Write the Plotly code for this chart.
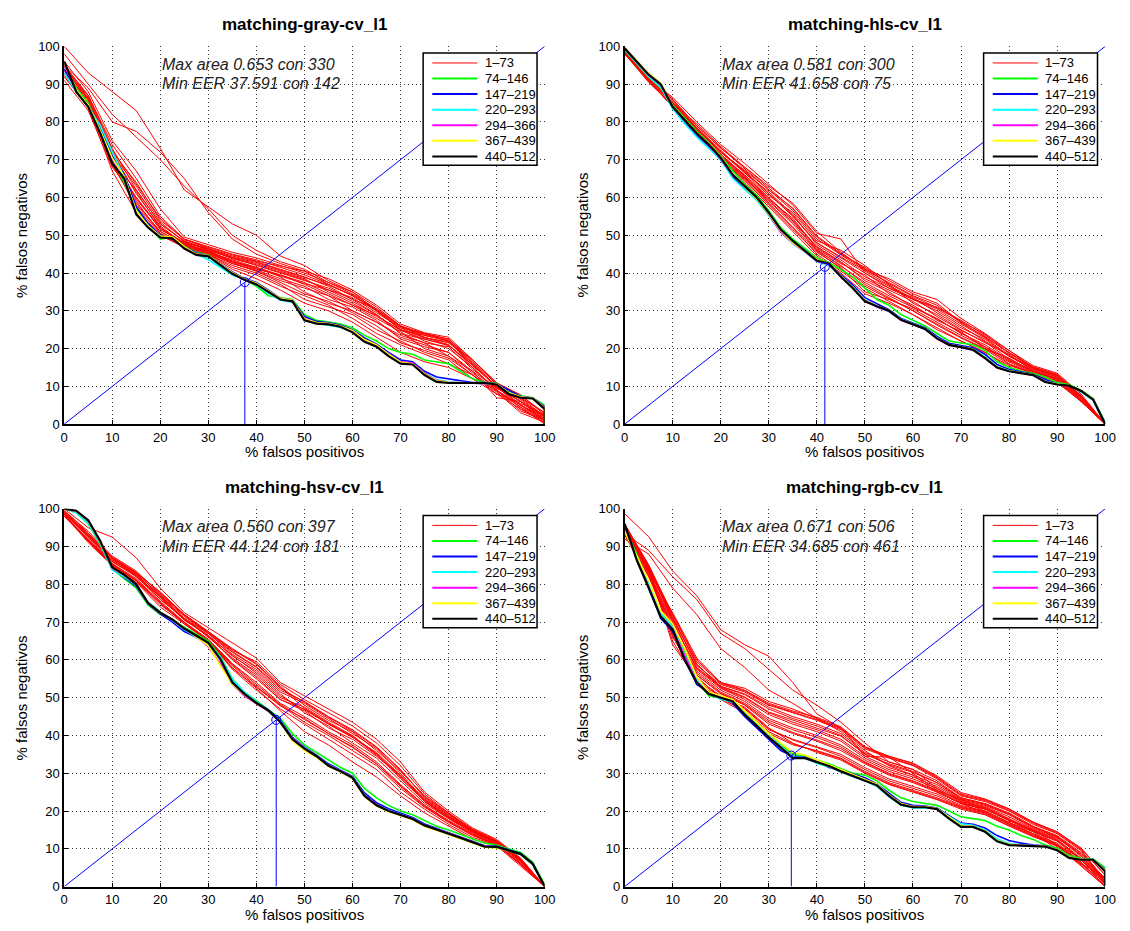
import plotly.graph_objects as go

# ---------------- data ----------------
X_FINE = [0, 2.5, 5, 7.5, 10, 12.5, 15, 17.5, 20, 22.5, 25, 27.5, 30, 32.5, 35, 37.5, 40,
          42.5, 45, 47.5, 50, 52.5, 55, 57.5, 60, 62.5, 65, 67.5, 70, 72.5, 75, 77.5, 80,
          82.5, 85, 87.5, 90, 92.5, 95, 97.5, 100]
X_FINE_DROP = X_FINE + [100]
X_RED = [0, 5, 10, 15, 20, 25, 30, 35, 40, 45, 50, 55, 60, 65, 70, 75, 80, 85, 90, 95, 100]

GROUP_LABELS = ["1–73", "74–146", "147–219", "220–293", "294–366", "367–439", "440–512"]
GROUP_COLORS = ["#ff0000", "#00ff00", "#0000ff", "#00ffff", "#ff00ff", "#ffff00", "#000000"]

TITLES = ["matching-gray-cv_l1", "matching-hls-cv_l1", "matching-hsv-cv_l1", "matching-rgb-cv_l1"]
MAX_AREA = ["0.653", "0.581", "0.560", "0.671"]
MAX_AREA_CON = [330, 300, 397, 506]
MIN_EER = [37.591, 41.658, 44.124, 34.685]
MIN_EER_CON = [142, 75, 181, 461]

# ---- gray ----
GRAY_RED = [
    [100, 93, 88, 83, 73, 62, 57.5, 53, 50, 44.5, 42, 38, 35, 30, 25.5, 24, 22.5, 17, 10.5, 7, 3],
    [98, 90, 82, 76, 70, 63, 57, 50, 46, 43, 41, 37.5, 34.5, 30.5, 26, 23.5, 22, 16, 10, 6, 2],
    [95, 89, 80, 77.5, 72, 65, 56, 49, 45, 42.5, 40.5, 37, 34, 30, 25, 23, 21, 15.5, 10, 5, 1.5],
    [94, 86, 72, 64, 54, 49, 47, 45, 43.5, 41.5, 39.5, 37, 34, 30, 25, 23.5, 22, 16, 10, 6, 2],
    [93, 85, 70, 60, 52, 48, 46.5, 44, 42, 40, 38, 36, 33, 29, 24, 22.5, 21, 15, 9, 5, 1],
    [95, 87, 73, 62, 53, 48.5, 46, 43, 41, 39.5, 37, 34, 30, 27, 23, 21, 19, 14, 9.5, 7, 3],
    [92, 84, 69, 58, 51, 47.5, 45.5, 42.5, 40.5, 38, 36, 34, 31.5, 28, 24.5, 20, 18, 13, 8, 4, 1],
    [94, 85, 71, 59, 50.5, 47, 45, 42, 40, 37, 33, 31, 29, 25, 22, 19, 17, 12, 10, 5, 2],
    [93, 86, 70, 57, 50, 47, 45, 41.5, 39.5, 36.5, 34, 31.5, 28, 24, 21, 18.5, 16, 13, 8.5, 3, 0.5],
    [91, 83, 68, 60, 51.5, 48, 45.5, 43.5, 41.5, 39, 35, 32, 30, 27, 23.5, 21.5, 18, 14, 7, 6, 1.5],
    [95, 86, 72, 61, 52.5, 47.5, 46, 44, 42.5, 40.5, 38.5, 35, 32, 28.5, 25, 22, 20, 15, 9, 4.5, 0],
    [92, 84, 67, 56, 50, 46.8, 44.8, 41, 38.5, 35.5, 32, 30, 27, 23, 19, 16.5, 15, 12, 8, 5.5, 2.5],
    [94, 87, 74, 65, 55, 49, 46.5, 44.5, 43, 41, 39, 36.5, 33, 30.5, 26, 23, 21.5, 17, 11, 7.5, 3],
    [93, 85, 69, 57.5, 50.5, 47.2, 45.2, 42.5, 40.8, 38.5, 36.5, 33, 31, 27.5, 22.5, 20.5, 19, 13.5, 9, 3.5, 1],
    [96, 88, 75, 67, 57, 49.5, 47.5, 45.5, 44, 42, 40, 37.5, 35, 31, 26, 24, 22.5, 16.5, 10.5, 6.5, 2],
    [94.5, 86.5, 71.5, 63, 53.5, 48.2, 46.2, 43.8, 42.2, 40.2, 38.2, 35.5, 32.5, 29, 24, 21.5, 20.5, 14.5, 9.5, 6, 1],
    [93.5, 85.5, 70.5, 61.5, 52, 47.8, 45.8, 43.2, 41.2, 39.2, 37.2, 35.5, 33.5, 29.5, 25.5, 22.8, 21.8, 15.5, 10.2, 4, 0.5],
    [95, 87, 72.5, 63.5, 54.5, 48.8, 46.8, 44.8, 43.2, 41.8, 40.5, 38.5, 35.5, 31.5, 26.5, 24.2, 23, 17, 10.8, 7.8, 2.5],
    [92.5, 84.5, 68.5, 58.5, 51, 47.4, 45.4, 42.8, 40.5, 37.5, 34.5, 32.5, 29.5, 26, 21.5, 19.5, 17.5, 13, 8.8, 4.5, 1.2],
    [94, 86, 71, 59.5, 51.8, 47.6, 45.6, 43, 41.5, 39.5, 37.5, 34.5, 31.5, 28.8, 24.8, 22.5, 20.8, 15.8, 9.8, 5.2, 0.8],
    [93, 84, 69.5, 62, 53, 48.4, 46.4, 44.2, 42.8, 40.8, 38.8, 36.8, 34.2, 30.2, 25.8, 23.8, 22.2, 16.2, 9.5, 6.8, 2.2],
]
GRAY_GREEN = [95, 89, 85, 78, 70, 64, 57, 52.5, 49, 49.5, 47, 45.5, 44.8, 42.5, 40, 38.5, 36.5, 34, 33.5, 33, 29,
              27.5, 27, 26.5, 25.5, 23.5, 22, 20, 19, 18.5, 17, 16.5, 16, 14, 12, 11, 10.8, 8.5, 7.5, 7, 5, 0]
GRAY_BLUE = [94, 88.5, 84.5, 78.5, 71, 66, 57.5, 53, 50, 49, 47, 45.3, 44.5, 42.3, 40.3, 38.6, 37.5, 35.5, 33.3, 32.8, 28.5,
             27.2, 26.8, 26.2, 25, 22.8, 21.2, 19, 17, 16.5, 14, 12.5, 12, 11.5, 11, 11, 10.7, 9, 7.3, 6.9, 4.5, 0]
GRAY_CYAN = [93, 88, 84, 79, 72, 65.5, 56, 52.5, 49.5, 49.2, 46.8, 45, 43.5, 41.5, 39.5, 38.4, 36.8, 34.6, 32.8, 32.3, 27.8,
             26.8, 26.2, 25.6, 24.5, 22.2, 20.8, 18.6, 16.4, 15.9, 13.5, 11.8, 11.2, 11, 10.9, 10.9, 10.6, 8.3, 7.1, 6.8, 4.2, 0]
GRAY_MAGENTA = [95, 88.2, 84.2, 77.5, 70, 65.2, 55.8, 52.2, 49.6, 49.4, 46.8, 45.1, 44.6, 42.2, 40, 38.4, 37.2, 35.2, 33.2, 32.7, 28,
                26.9, 26.6, 26, 24.6, 22.3, 20.9, 18.6, 16.5, 16.2, 13.5, 11.6, 11.1, 11, 10.9, 10.9, 10.6, 8.2, 7.2, 6.9, 4.3, 0]
GRAY_YELLOW = [95.5, 88.5, 84.5, 77.8, 70.5, 65.5, 56.5, 52.5, 49.8, 49.6, 47, 45, 44.6, 42.3, 40.1, 38.5, 37.3, 35.3, 33.3, 32.8, 27.9,
               26.9, 26.6, 26, 24.8, 22.4, 21, 18.5, 16.4, 16, 13.3, 11.5, 11.1, 11, 10.9, 10.9, 10.7, 8.3, 7.2, 6.9, 4.2, 0]
GRAY_BLACK = [96, 88, 84, 77, 69, 65, 55.5, 52, 49.4, 49.2, 46.5, 44.8, 44.4, 42, 39.8, 38.2, 37, 35, 33, 32.5, 27.5,
              26.6, 26.4, 25.8, 24.3, 21.8, 20.5, 18, 16, 15.8, 13, 11.2, 10.9, 10.9, 10.9, 10.9, 10.5, 8, 7, 6.8, 4, 0]

# ---- hls ----
HLS_RED = [
    [99, 92, 85, 78, 72, 67, 61, 55, 48, 44, 40, 36, 33, 30, 26, 22, 18, 14.5, 12.5, 7, 0],
    [98.5, 91, 84, 77.5, 71, 66, 60, 54, 47, 43, 38, 35, 31, 28, 24, 21, 17, 14, 12, 6.5, 0],
    [99, 92.5, 86, 79, 73, 68, 62.5, 57, 49.5, 45, 41.5, 38, 34.5, 32, 27, 23, 19, 15, 13, 7.5, 0],
    [98, 90.5, 84.5, 77, 70.5, 65, 59, 53, 46, 42, 37, 33.5, 30, 26.5, 23, 20, 16.5, 13.5, 11.5, 6, 0],
    [99.5, 92, 85.5, 78.5, 72.5, 66.5, 60.5, 56, 48.5, 46, 42, 37, 32, 29, 25, 21.5, 18.5, 14, 12, 7, 0],
    [98, 91, 84, 77, 71.5, 65.5, 58.5, 52, 45, 40.5, 36, 32.5, 29, 25, 22, 19, 15.5, 13.5, 11.5, 6, 0],
    [99, 91.5, 86.5, 80, 74, 69, 63.5, 58, 50.5, 49, 40, 36.5, 33, 31, 27.5, 23.5, 19.5, 15.5, 13.5, 8, 0],
    [98.5, 91, 84, 77, 70, 64.5, 58, 51.5, 45.5, 41.5, 35, 33, 30.5, 27, 23.5, 20.5, 16, 13.5, 11.2, 6.2, 0],
    [99, 92, 85, 78, 72, 66.5, 61.5, 55.5, 47.5, 43.5, 39, 36, 33.5, 29.5, 25.5, 22.5, 18, 14.5, 12.5, 7, 0],
    [99, 91.5, 84.5, 77.5, 71, 65.5, 59.5, 54.5, 46.5, 42.5, 39.5, 34.5, 31.5, 27.5, 24.5, 20, 17.5, 13.8, 12, 6.5, 0],
    [98.5, 92, 85, 79.5, 73.5, 68, 63, 58.5, 51, 45.5, 41, 38.5, 35, 33, 28, 24, 19.5, 15, 13, 7.5, 0],
    [98, 91, 84, 77, 70.5, 64, 57.5, 51, 44.5, 40, 34.5, 32, 29, 25.5, 22, 19, 15, 13.2, 11, 6, 0],
    [98.8, 91.8, 85.2, 78.2, 72.2, 66.8, 61, 55.2, 48, 44.2, 40.5, 36.8, 33.2, 30.5, 26.5, 22.8, 18.2, 14.8, 12.8, 7.2, 0],
    [98.2, 90.8, 84.2, 77.2, 70.8, 65.2, 59.2, 53.5, 46.2, 41.8, 37.5, 34, 31, 27.8, 24.2, 20.6, 16.8, 13.8, 11.8, 6.3, 0],
    [99.2, 92.2, 85.8, 79, 73.2, 67.5, 62, 56.5, 49, 44.8, 40.8, 37.5, 34, 31.5, 26.8, 23.2, 18.8, 14.8, 12.8, 7.4, 0],
    [98.6, 91.2, 84.6, 77.8, 71.5, 65.8, 59.8, 53.8, 46.8, 42.8, 38.5, 35.5, 32.5, 28.5, 24.8, 21.8, 17.2, 14.2, 12.2, 6.8, 0],
    [99, 91.6, 85, 78.4, 72, 67.2, 62, 57.2, 49.8, 45.2, 41.2, 37.2, 33.8, 30.8, 27.2, 23.8, 18.8, 15.2, 13.2, 7.6, 0],
    [98.4, 90.6, 84.2, 77.2, 70.2, 64.8, 58.4, 52.2, 45.8, 41.2, 36.5, 33.2, 30, 26.2, 22.8, 19.8, 15.8, 13.4, 11.3, 6.1, 0],
]
HLS_GREEN = [99, 95.5, 92, 89, 84.5, 81, 77.5, 74.5, 71, 67, 63.5, 60.5, 56.5, 52, 49, 46.5, 44, 42.8, 41, 39, 36,
             33, 31.5, 29, 27.5, 26, 24, 22, 21.5, 21, 19.5, 16.5, 15, 14, 13.5, 12.5, 11, 10.5, 9, 6.8, 0.5]
HLS_BLUE = [99.3, 95.8, 92.3, 89.5, 83.8, 80, 76.5, 73.5, 70, 65.5, 62.5, 59.5, 55.5, 51, 48, 45.8, 43.2, 42.3, 39.5, 36.8, 33.5,
            31.8, 30.3, 28, 26.8, 25.5, 23.2, 21.4, 20.8, 20.2, 18.5, 15.8, 14.5, 13.8, 13.2, 11.8, 10.6, 10.3, 8.9, 6.6, 0.2]
HLS_CYAN = [99.2, 95.5, 92, 89.2, 83.5, 79.5, 76, 73, 70, 65, 62, 59.2, 55.2, 50.8, 47.8, 45.6, 43, 42, 39.2, 36.3, 33,
            31, 29.8, 27.8, 26.6, 25.3, 22.9, 21.1, 20.5, 19.9, 17.8, 15.2, 14.2, 13.6, 13.1, 11.4, 10.6, 10.2, 8.5, 6.3, 0]
HLS_MAGENTA = [99.4, 95.9, 92.4, 89.8, 84, 80.3, 76.8, 73.8, 70.2, 65.8, 62.8, 59.8, 55.5, 50.8, 47.9, 45.7, 43.1, 42.3, 39, 36.1, 32.8,
               31, 29.9, 27.5, 26.4, 25.1, 22.6, 20.9, 20.3, 19.6, 17.4, 14.9, 14, 13.5, 13, 11.2, 10.5, 10.2, 8.8, 6.5, 0]
HLS_YELLOW = [99.6, 96.2, 92.8, 90.2, 84.2, 80.6, 77.2, 74.2, 70.8, 66, 62.8, 59.6, 55.6, 51.2, 48, 45.7, 43.6, 42.6, 39.2, 36.2, 32.7,
              31.3, 30.1, 27.7, 26.6, 25.3, 22.8, 21.1, 20.5, 19.8, 17.6, 15.1, 14.1, 13.6, 13.1, 11.3, 10.6, 10.3, 8.9, 6.6, 0]
HLS_BLACK = [99.5, 96, 92.5, 90, 84, 80.5, 77, 74, 70.5, 66, 63, 60, 56, 51.5, 48.5, 46, 43.3, 42.5, 39, 36, 32.5,
             31.2, 30, 27.6, 26.5, 25.2, 22.7, 21, 20.4, 19.7, 17.5, 15, 14, 13.5, 13, 11.2, 10.5, 10.2, 8.8, 6.5, 0]

# ---- hsv ----
HSV_RED = [
    [100, 95, 92.5, 87, 79, 72.5, 68.5, 64.5, 60.5, 54, 50.5, 47, 43.5, 39, 33, 25, 20, 15.5, 12.5, 7.5, 0],
    [99, 93, 87, 83, 77, 71.5, 67, 62, 58, 52, 49, 45, 41.5, 37, 31, 23.5, 19, 15, 12, 7, 0],
    [98.5, 92, 86, 82, 76, 71, 66, 60.5, 56, 50, 47.5, 43.5, 40, 35, 29, 22.5, 18.5, 14.5, 11.5, 6.5, 0],
    [99.5, 94, 87.5, 83.5, 77.5, 72, 67.5, 63, 59, 53, 48, 44, 41, 36, 30.5, 24, 19.5, 15, 12, 7.5, 0],
    [98, 91.5, 85, 81, 75, 70, 65.5, 59, 54, 48.5, 45, 41, 37.5, 33, 27, 21.5, 17.5, 14, 11.2, 6, 0],
    [99, 92.5, 86.5, 82.5, 76.5, 70.5, 66.5, 61, 57, 51, 46, 42.5, 38, 34, 28, 22, 18, 14.2, 11.5, 7, 0],
    [98.5, 91, 85, 80.5, 74, 69.5, 65, 57.5, 52, 47, 43, 39, 35, 31, 25, 20.5, 16.5, 13, 11, 5.8, 0],
    [99, 93.5, 87, 82, 77, 71, 67, 61.5, 57.5, 51.5, 48.5, 44.5, 40.5, 36.5, 30, 23, 18.5, 14.8, 11.8, 7, 0],
    [98, 92, 85.5, 81.5, 75.5, 70, 65, 58.5, 53, 48, 43.5, 40, 36, 32, 26, 21, 17, 13.5, 11, 6.2, 0],
    [99.5, 93, 86, 82.5, 76, 71, 66.5, 60, 55, 49.5, 46.5, 42, 39, 34.5, 29.5, 22.5, 18, 14.5, 11.5, 6.8, 0],
    [98.5, 91.5, 85.5, 81, 75, 69.5, 65, 58, 52.5, 46.5, 41, 37.5, 33, 29, 24, 19.5, 16, 12.5, 10.8, 5.5, 0],
    [99, 92.5, 86.5, 83, 78, 72, 67.5, 62.5, 59.5, 53.5, 49.5, 46, 42.5, 38, 32, 24.5, 19.5, 15.2, 12.2, 7.3, 0],
    [98.8, 92.8, 86.2, 82.2, 76.8, 70.8, 66.2, 60.2, 55.5, 49.5, 47, 43, 39.5, 35.5, 29.5, 22.8, 18.2, 14.6, 11.6, 6.6, 0],
    [99.2, 93.2, 87.2, 82.8, 77.2, 71.8, 67.2, 62.2, 58.2, 52.5, 48.8, 44.8, 41.2, 36.8, 30.8, 23.8, 19.2, 15.1, 12.1, 7.2, 0],
    [98.2, 91.8, 85.2, 81.2, 75.2, 69.8, 65.2, 58.8, 53.5, 48.2, 44.2, 40.5, 36.8, 32.5, 26.5, 21.2, 17.2, 13.8, 11.1, 6.1, 0],
    [99.6, 93.6, 87.2, 83.2, 77.8, 71.8, 67.2, 62.8, 58.8, 52.8, 47.2, 43.2, 39.8, 35.2, 29.2, 23.2, 18.8, 14.8, 11.8, 7.2, 0],
    [98.6, 91.4, 85.4, 80.8, 74.6, 69.8, 65.2, 57.8, 52.8, 47.8, 44.5, 40.5, 37, 32.5, 26.8, 21.5, 17.2, 13.6, 11.2, 5.9, 0],
    [99, 92.8, 86.8, 82.6, 76.6, 70.6, 66.4, 61.2, 56.5, 50.5, 46.8, 43, 39.6, 34.8, 28.6, 22.6, 18.4, 14.4, 11.6, 6.9, 0],
]
HSV_GREEN = [100, 99, 96, 90.5, 84, 81.5, 79, 74.5, 72, 70.5, 68.6, 66.8, 65, 61, 55, 51.5, 49.2, 47, 44.5, 40.5, 37.5,
             35.5, 33.5, 31.5, 30, 26, 23.5, 21.5, 20, 19, 17.5, 16, 15, 13.8, 12.5, 11.5, 11, 10, 9, 6.5, 0.5]
HSV_BLUE = [100, 99.2, 96.5, 91, 84.2, 81.8, 79.5, 74.8, 72.2, 70, 67.5, 66, 64.2, 60.5, 54.5, 51.2, 48.8, 46.8, 44, 39.5, 37,
            34.8, 32.5, 30.8, 29.2, 24.8, 22.2, 20.6, 19.5, 18.3, 16.6, 15.4, 14.3, 13.2, 12, 10.8, 10.7, 9.8, 8.8, 6.2, 0]
HSV_CYAN = [100, 99, 96.2, 90.8, 83.8, 82, 79.8, 75.2, 72.8, 70.5, 68, 66, 64.3, 60.8, 54.8, 51.5, 48.9, 46.5, 43.8, 39.2, 36.8,
            34.6, 32.2, 30.6, 29, 24.3, 21.7, 20.2, 19.2, 18, 16.3, 15.1, 14.1, 13, 11.9, 10.7, 10.5, 9.5, 8.4, 5.8, 0]
HSV_MAGENTA = [100, 99.3, 96.8, 91.2, 84.3, 82.3, 79.9, 74.9, 72.4, 70.6, 68.2, 66.2, 63.5, 59, 53.5, 50.5, 48.4, 46.4, 43.6, 39.3, 36.7,
               34.6, 32.1, 30.6, 28.9, 24.2, 21.7, 20.1, 19.1, 18, 16.3, 15.1, 14.1, 13, 11.9, 10.7, 10.5, 9.6, 8.6, 6, 0]
HSV_YELLOW = [100, 99.4, 96.9, 91.4, 84.4, 82.4, 79.9, 75, 72.6, 70.8, 68.4, 66.1, 63.8, 58.5, 53.5, 50.8, 48.5, 46.5, 43.4, 38.6, 36,
              34.2, 31.8, 30.3, 28.6, 23.8, 21.3, 19.8, 18.8, 17.7, 16, 14.9, 13.8, 12.7, 11.6, 10.4, 10.2, 9.5, 8.5, 5.9, 0]
HSV_BLACK = [100, 99.5, 97, 91.5, 84.5, 82.5, 80, 75, 72.5, 70.7, 68.3, 66.3, 64.5, 60.2, 54, 51, 48.6, 46.6, 43.5, 39, 36.5,
             34.5, 32, 30.5, 28.8, 24, 21.5, 20, 19, 17.9, 16.2, 15, 14, 12.9, 11.8, 10.6, 10.5, 9.6, 8.6, 6, 0]

# ---- rgb ----
RGB_RED = [
    [98.7, 92.6, 83.5, 77, 68, 64, 61, 54, 45.7, 42, 34.5, 34.3, 30, 25.5, 23, 20.5, 17.5, 15, 11, 7.5, 2],
    [93.5, 89, 82, 76, 67, 63, 57.5, 52, 48, 43.5, 38, 33, 31, 26, 22.5, 20, 17, 14.5, 10.5, 7, 1.5],
    [92, 88, 79, 72, 63, 58, 52, 48.5, 44.5, 41, 36, 32, 29.5, 25, 22, 19.5, 16.5, 14, 10, 6, 1],
    [95, 84, 72, 60, 54, 52.5, 49, 47, 44.5, 42, 37, 34.5, 32.5, 29, 24.5, 23, 20.5, 17, 14.5, 10, 3],
    [94, 83, 70, 58, 53, 51, 47.5, 45, 43, 40.5, 35.5, 33, 31, 28, 23.5, 22, 19.5, 16, 13.5, 9, 2],
    [96, 85, 71, 59, 52.5, 50, 46, 43.5, 41.5, 39, 34.5, 31.5, 29.5, 27, 23, 21.5, 19, 15.5, 13, 8, 1.5],
    [93, 82, 69, 57, 52, 49, 44.5, 42, 40, 37.5, 33.5, 30.5, 28.5, 26, 22.5, 21, 18, 15, 12.5, 7.5, 1],
    [95, 83.5, 66, 56, 51, 48, 43, 40.5, 38.5, 36, 32.5, 29.5, 27.5, 25, 22, 20.5, 17.5, 14.5, 12, 7, 0.5],
    [94.5, 84.5, 64, 55, 50.5, 47, 41.5, 39, 37, 35, 31.5, 28.5, 26.5, 24.5, 21.5, 20, 17, 14, 11.5, 6.5, 0],
    [93.5, 82.5, 68, 53.5, 49.5, 46, 40.5, 37.5, 36, 34, 30.5, 27.5, 25.5, 23.5, 21, 19.5, 16.5, 13.5, 11, 6, 2.5],
    [95.5, 85, 71.5, 58.5, 53.5, 51.5, 48, 46, 44, 41.5, 36.5, 34, 32, 28.5, 24, 22.5, 20, 16.5, 14, 9.5, 1],
    [94, 83, 67, 55.5, 50, 47.5, 42, 38, 35.5, 33.5, 30, 27, 25, 23, 20.5, 19, 16, 13.2, 10.8, 5.5, 0],
    [96, 84.5, 70.5, 57.5, 52.5, 49.5, 45.5, 43, 41, 38.5, 34, 31, 29, 26.5, 22.8, 21.2, 18.5, 15.2, 12.8, 8.5, 1.8],
    [95, 84, 69, 56.5, 51.5, 48.5, 44, 41.5, 39.5, 37, 33, 30, 28, 25.5, 22.2, 20.8, 17.8, 14.8, 12.3, 7.2, 0.8],
    [94.5, 83.5, 72.5, 60.5, 54, 52, 48.5, 46.5, 44.8, 42.3, 37, 34.5, 32.7, 29.3, 24.9, 23.2, 20.6, 17.1, 14.5, 10.2, 3],
    [94.8, 84.2, 71, 58.8, 53, 50.8, 47, 44.5, 42.5, 40, 35, 32.5, 30.5, 27.5, 23.2, 21.8, 19.2, 15.8, 13.2, 8.8, 2.2],
    [93.8, 83.2, 68.5, 56, 51.2, 48.2, 43.5, 40.8, 38.8, 36.5, 32.8, 29.8, 27.8, 25.2, 22, 20.6, 17.6, 14.6, 12.2, 7.1, 0.6],
    [95.2, 84.8, 70, 57.8, 52.8, 50.2, 46.2, 44, 42, 39.8, 35.2, 32.2, 30.2, 27.5, 23.5, 21.8, 19.2, 15.8, 13.3, 8.2, 1.2],
    [94.2, 83.8, 65, 54.5, 50.2, 47.2, 41.8, 38.8, 36.8, 34.5, 31, 28, 26, 24, 21.2, 19.8, 16.8, 13.8, 11.2, 6.2, 0.2],
    [95.8, 85.2, 72, 59.5, 53.8, 51.8, 48.2, 46.2, 44.2, 41.8, 36.8, 34.2, 32.2, 28.8, 24.2, 22.8, 20.2, 16.8, 14.2, 9.8, 1.4],
    [93.2, 82.2, 66.5, 54, 49.8, 46.5, 41, 37.8, 35.8, 33.8, 30.2, 27.2, 25.2, 23.2, 20.8, 19.2, 16.2, 13.4, 10.9, 5.7, 0],
]
RGB_GREEN = [95, 88, 80, 72, 68.5, 62, 54.5, 50.5, 50, 49.5, 46, 43, 40.5, 37.5, 35, 34.5, 33.5, 32.5, 31.2, 30, 29.5,
             28, 25.5, 23.5, 22.5, 22, 21.5, 20, 18.5, 18, 17.5, 16, 15, 13.5, 12.5, 11, 10.2, 8.2, 7.5, 7.3, 5, 0]
RGB_BLUE = [95.5, 87, 79.5, 71, 67.5, 60.5, 53.5, 51.5, 50.2, 48.5, 45, 42, 39, 36, 34.5, 34.2, 33.2, 31.5, 30.8, 29.8, 28.8,
            27.2, 24.8, 22.3, 21.5, 21.3, 20.8, 18.8, 16.8, 16.5, 15.5, 13.5, 12.2, 11.5, 11, 10.8, 9.8, 7.8, 7.2, 7.1, 4.5, 0]
RGB_CYAN = [94.5, 87.5, 80.5, 72.5, 68.8, 61.5, 54.8, 51.3, 49.6, 48.8, 45.8, 42.8, 39.8, 37.2, 34.3, 34.1, 32.6, 31.7, 30.3, 29.1, 28,
            26.5, 23.8, 21.6, 20.8, 20.9, 20.6, 18.5, 16.6, 16.2, 15, 12.6, 11.4, 11, 10.8, 10.7, 9.7, 7.7, 7.2, 7.1, 4.2, 0]
RGB_MAGENTA = [95, 86.8, 79.3, 71.6, 68.2, 61.2, 54.2, 51.2, 50.1, 49.1, 45.6, 42.6, 39.6, 36.9, 34.1, 34.1, 33.1, 32, 30.6, 29.4, 28.3,
               26.9, 24.1, 21.8, 21.1, 21.1, 20.6, 18.2, 16, 15.9, 14.6, 12.1, 11.1, 10.9, 10.8, 10.7, 9.7, 7.7, 7.2, 7.1, 4.1, 0]
RGB_YELLOW = [94, 87.5, 81, 73, 69.5, 63, 55.5, 51.5, 50.5, 49.5, 46.5, 43.5, 40.5, 38, 35.5, 34.8, 33.5, 32.3, 30.9, 29.6, 28.5,
              27.1, 24.3, 22, 21.2, 21.2, 20.7, 18.3, 16.1, 16, 14.7, 12.2, 11.2, 10.9, 10.8, 10.7, 9.8, 7.8, 7.2, 7.1, 4.3, 0]
RGB_BLACK = [96, 86.5, 79, 71.4, 68, 60, 54, 51, 50, 49, 45.5, 42.5, 39.5, 36.8, 34, 34, 33, 31.9, 30.5, 29.3, 28.2,
             26.8, 24, 21.7, 21, 21, 20.5, 18, 15.8, 15.8, 14.5, 12, 11, 10.8, 10.7, 10.6, 9.6, 7.6, 7.1, 7.1, 4, 0]

PANELS = [
    (GRAY_RED, [GRAY_GREEN, GRAY_BLUE, GRAY_CYAN, GRAY_MAGENTA, GRAY_YELLOW, GRAY_BLACK]),
    (HLS_RED, [HLS_GREEN, HLS_BLUE, HLS_CYAN, HLS_MAGENTA, HLS_YELLOW, HLS_BLACK]),
    (HSV_RED, [HSV_GREEN, HSV_BLUE, HSV_CYAN, HSV_MAGENTA, HSV_YELLOW, HSV_BLACK]),
    (RGB_RED, [RGB_GREEN, RGB_BLUE, RGB_CYAN, RGB_MAGENTA, RGB_YELLOW, RGB_BLACK]),
]

# ---------------- layout geometry (pixels) ----------------
W, H = 1130, 931
COLS = [(61, 548), (629, 1116)]
ROWS = [(40, 424), (510, 894)]
FONT = "Liberation Sans"

def px2x(px):
    return px / W

def py2y(py):
    return 1 - py / H

fig = go.Figure()
layout = dict(width=W, height=H, margin=dict(l=0, r=0, t=0, b=0),
              plot_bgcolor="white", paper_bgcolor="white", showlegend=False,
              font=dict(family=FONT, size=13, color="black"))
annotations = []
shapes = []

for i, (reds, others) in enumerate(PANELS):
    r, c = divmod(i, 2)
    sfx = "" if i == 0 else str(i + 1)
    xa, ya = "x" + sfx, "y" + sfx
    x0p, x1p = COLS[c]
    y0p, y1p = ROWS[r]

    for rc in reds:
        fig.add_trace(go.Scatter(x=X_RED, y=rc, mode="lines", xaxis=xa, yaxis=ya,
                                 line=dict(color=GROUP_COLORS[0], width=1), hoverinfo="skip"))
    for k, yc in enumerate(others):
        xs = X_FINE_DROP if len(yc) == len(X_FINE_DROP) else X_FINE
        fig.add_trace(go.Scatter(x=xs, y=yc, mode="lines", xaxis=xa, yaxis=ya,
                                 line=dict(color=GROUP_COLORS[k + 1], width=2.2 if k == 5 else 1.6),
                                 hoverinfo="skip"))
    e = MIN_EER[i]
    fig.add_trace(go.Scatter(x=[0, 100], y=[0, 100], mode="lines", xaxis=xa, yaxis=ya,
                             line=dict(color="#0000ff", width=1), hoverinfo="skip"))
    fig.add_trace(go.Scatter(x=[e, e], y=[0, e], mode="lines", xaxis=xa, yaxis=ya,
                             line=dict(color="#0000ff", width=1), hoverinfo="skip"))
    fig.add_trace(go.Scatter(x=[e], y=[e], mode="markers", xaxis=xa, yaxis=ya,
                             marker=dict(symbol="circle-open", size=9, color="#0000ff", line=dict(width=1)),
                             hoverinfo="skip"))

    axcommon = dict(range=[0, 100], dtick=10, tick0=0, showgrid=True, gridcolor="#333333",
                    griddash="1px,3px", gridwidth=1, zeroline=False, showline=True,
                    linecolor="black", linewidth=1.5, ticks="inside", ticklen=4,
                    tickcolor="black", tickfont=dict(family=FONT, size=13), fixedrange=True)
    layout["xaxis" + sfx] = dict(axcommon, domain=[px2x(x0p), px2x(x1p)], anchor=ya)
    layout["yaxis" + sfx] = dict(axcommon, domain=[py2y(y1p), py2y(y0p)], anchor=xa)

    cx = (x0p + x1p) / 2
    cy = (y0p + y1p) / 2
    annotations.append(dict(text="<b>" + TITLES[i] + "</b>", xref="paper", yref="paper",
                            x=px2x(cx), y=py2y(y0p - 22), xanchor="center", yanchor="middle",
                            showarrow=False, font=dict(family=FONT, size=17)))
    annotations.append(dict(text="% falsos positivos", xref="paper", yref="paper",
                            x=px2x(cx), y=py2y(y1p + 28), xanchor="center", yanchor="middle",
                            showarrow=False, font=dict(family=FONT, size=15)))
    annotations.append(dict(text="% falsos negativos", xref="paper", yref="paper",
                            x=px2x(x0p - 43), y=py2y(cy), xanchor="center", yanchor="middle",
                            textangle=-90, showarrow=False, font=dict(family=FONT, size=15)))
    annotations.append(dict(text="<i>Max area %s con %d</i>" % (MAX_AREA[i], MAX_AREA_CON[i]),
                            xref=xa, yref=ya, x=19.9, y=95.3, xanchor="left", yanchor="middle",
                            showarrow=False, font=dict(family=FONT, size=16, color="#222222")))
    annotations.append(dict(text="<i>Min EER %.3f con %d</i>" % (MIN_EER[i], MIN_EER_CON[i]),
                            xref=xa, yref=ya, x=19.9, y=90.1, xanchor="left", yanchor="middle",
                            showarrow=False, font=dict(family=FONT, size=16, color="#222222")))

    # legend box (drawn in axis coordinates)
    shapes.append(dict(type="rect", xref=xa, yref=ya, x0=74.7, x1=98.4, y0=68.5, y1=98.25,
                       fillcolor="white", line=dict(color="black", width=1.5), layer="above"))
    for k, (lab, col) in enumerate(zip(GROUP_LABELS, GROUP_COLORS)):
        yy = 95.6 - k * 4.12
        shapes.append(dict(type="line", xref=xa, yref=ya, x0=76.6, x1=86.0, y0=yy, y1=yy,
                           line=dict(color=col, width=1 if k == 0 else 2), layer="above"))
        annotations.append(dict(text=lab, xref=xa, yref=ya, x=87.1, y=yy, xanchor="left",
                                yanchor="middle", showarrow=False,
                                font=dict(family=FONT, size=13)))

layout["annotations"] = annotations
layout["shapes"] = shapes
fig.update_layout(**layout)
fig.write_html("out.html")
